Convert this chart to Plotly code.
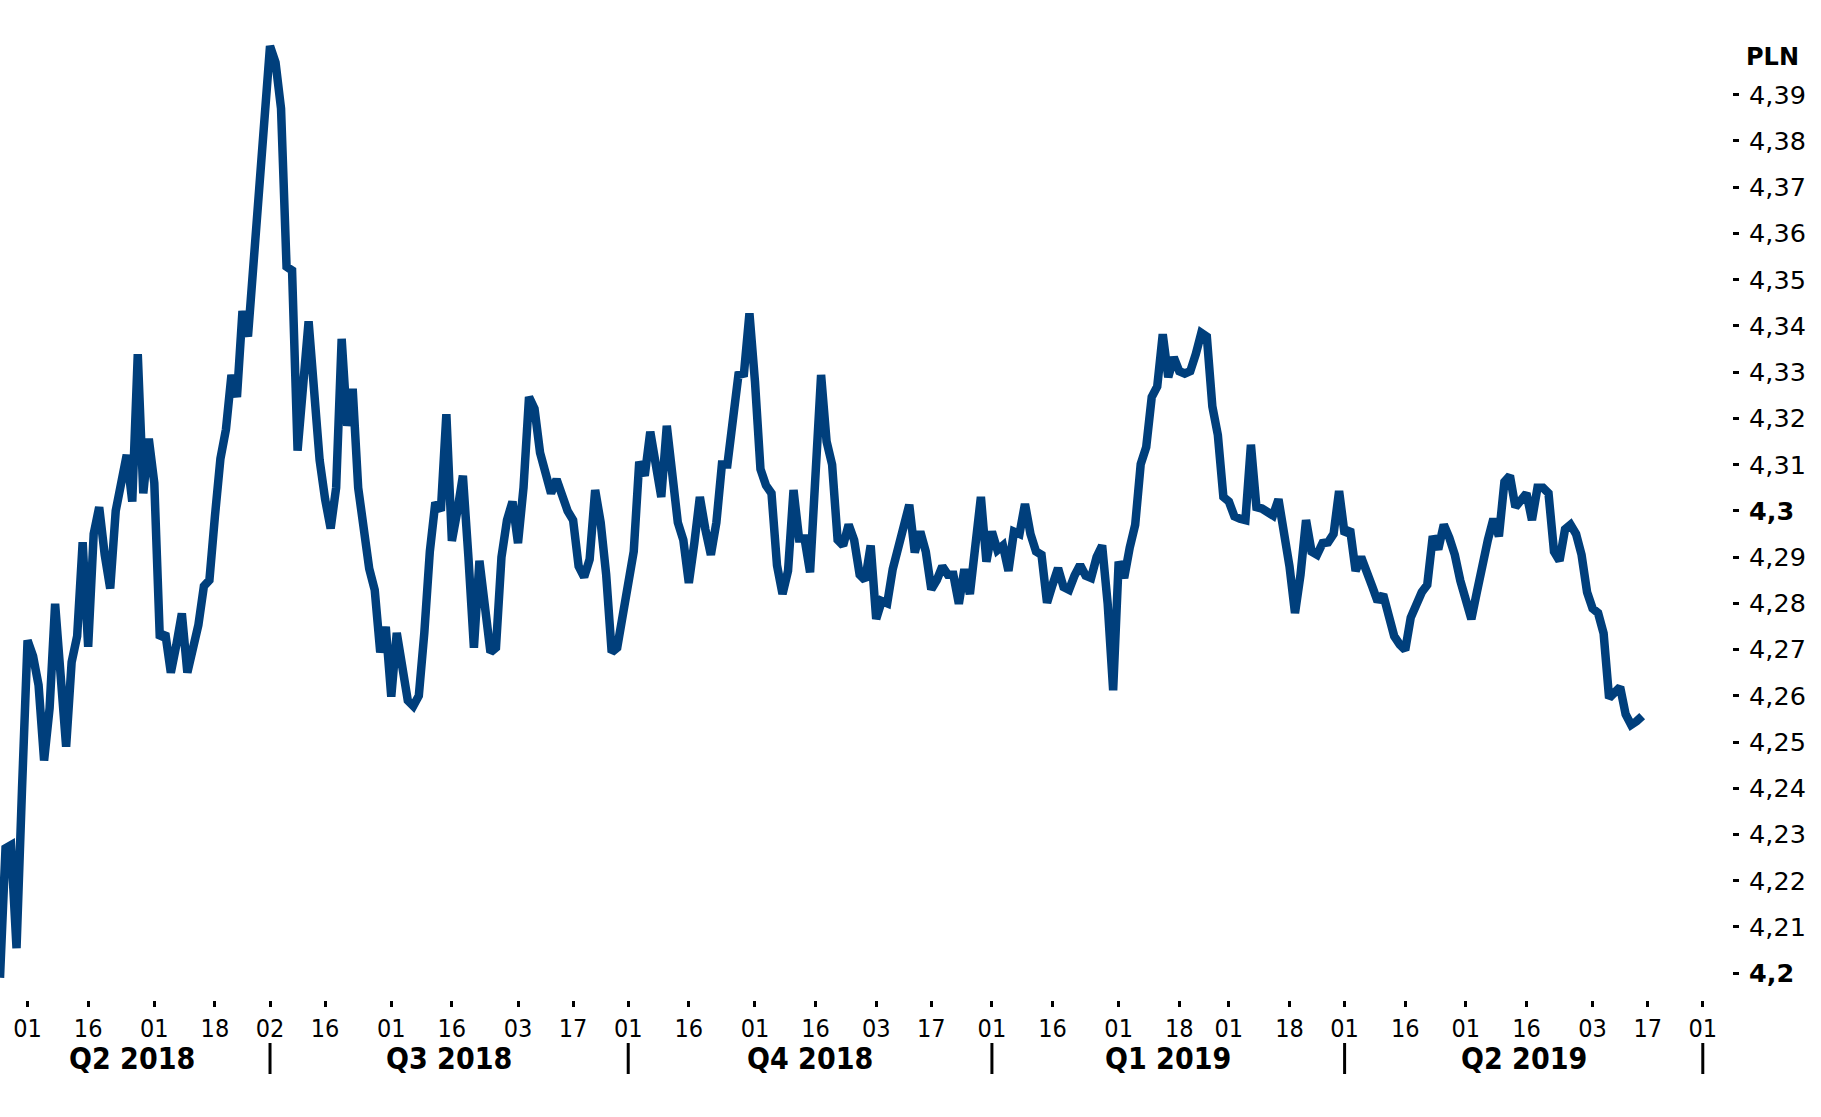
import plotly.graph_objects as go

# EUR/PLN daily fixing, trading days counted from 24 Apr 2018
eurpln = [
    4.199, 4.227, 4.2277, 4.2054, 4.240, 4.272, 4.2686, 4.2623, 4.246, 4.2573,
    4.2799, 4.2623, 4.249, 4.2673, 4.2729, 4.2932, 4.2706, 4.295, 4.3008, 4.2905,
    4.2832, 4.300, 4.3068, 4.3121, 4.302, 4.3339, 4.3038, 4.3156, 4.306, 4.2725,
    4.2735, 4.265, 4.271, 4.2778, 4.265, 4.270, 4.2753, 4.2837, 4.285, 4.2988,
    4.3113, 4.3176, 4.3294, 4.3246, 4.3432, 4.3377, 4.354, 4.3679, 4.383, 4.4005,
    4.397, 4.387, 4.3528, 4.352, 4.313, 4.327, 4.341, 4.326, 4.311, 4.3025,
    4.2962, 4.305, 4.3372, 4.3184, 4.3264, 4.305, 4.295, 4.2875, 4.2829, 4.2694,
    4.2749, 4.2598, 4.2736, 4.2648, 4.259, 4.2578, 4.260, 4.2736, 4.2912, 4.3018,
    4.300, 4.3209, 4.2935, 4.300, 4.3076, 4.290, 4.2704, 4.2892, 4.2774, 4.2694,
    4.2704, 4.290, 4.298, 4.302, 4.293, 4.305, 4.3246, 4.3221, 4.3126, 4.3088,
    4.3038, 4.3068, 4.303, 4.300, 4.298, 4.288, 4.2857, 4.2895, 4.3045, 4.2975,
    4.2862, 4.2694, 4.2704, 4.2774, 4.285, 4.2912, 4.3106, 4.3076, 4.3171, 4.310,
    4.303, 4.3184, 4.3076, 4.2975, 4.2937, 4.2844, 4.293, 4.303, 4.296, 4.2905,
    4.2975, 4.310, 4.310, 4.3189, 4.3294, 4.3297, 4.3427, 4.328, 4.309, 4.3055,
    4.3038, 4.2882, 4.282, 4.287, 4.3045, 4.294, 4.294, 4.2867, 4.308, 4.3294,
    4.315, 4.310, 4.2937, 4.2925, 4.297, 4.2937, 4.2862, 4.285, 4.2925, 4.2766,
    4.2805, 4.280, 4.2874, 4.292, 4.295, 4.3013, 4.291, 4.2955, 4.2912, 4.283,
    4.285, 4.288, 4.2862, 4.2862, 4.2799, 4.2874, 4.282, 4.2925, 4.303, 4.289,
    4.2955, 4.2915, 4.2925, 4.287, 4.2955, 4.295, 4.3015, 4.295, 4.2912, 4.2905,
    4.2801, 4.284, 4.2876, 4.2835, 4.2829, 4.286, 4.2883, 4.286, 4.2855, 4.290,
    4.2925, 4.280, 4.2612, 4.289, 4.2855, 4.292, 4.297, 4.3101, 4.3138, 4.3246,
    4.3269, 4.3382, 4.3289, 4.3332, 4.3302, 4.3297, 4.3302, 4.3339, 4.3385, 4.3377,
    4.3226, 4.3164, 4.303, 4.302, 4.2988, 4.2983, 4.298, 4.3143, 4.3008, 4.3005,
    4.2995, 4.299, 4.3025, 4.2962, 4.288, 4.2779, 4.2862, 4.298, 4.2912, 4.2905,
    4.293, 4.2932, 4.295, 4.3043, 4.295, 4.296, 4.287, 4.290, 4.2862, 4.2837,
    4.2804, 4.2819, 4.2774, 4.2729, 4.2711, 4.2699, 4.2769, 4.2799, 4.2824, 4.284,
    4.2945, 4.2917, 4.297, 4.2942, 4.2905, 4.2849, 4.2812, 4.2766, 4.2824, 4.2887,
    4.2937, 4.2983, 4.2945, 4.3063, 4.3076, 4.3008, 4.302, 4.3038, 4.298, 4.305,
    4.305, 4.3038, 4.2912, 4.2892, 4.296, 4.297, 4.295, 4.2905, 4.2824, 4.2789,
    4.2779, 4.2735, 4.2595, 4.2605, 4.2619, 4.256, 4.2537, 4.2545, 4.2556,
]
trading_day = list(range(len(eurpln)))

# x-axis day ticks (trading-day index) and their labels
tick_day = [5, 16, 28, 39, 49, 59, 71, 82, 94, 104, 114, 125, 137, 148, 159, 169,
            180, 191, 203, 214, 223, 234, 244, 255, 266, 277, 289, 299, 309]
tick_text = ["01", "16", "01", "18", "02", "16", "01", "16", "03", "17", "01", "16",
             "01", "16", "03", "17", "01", "16", "01", "18", "01", "18", "01", "16",
             "01", "16", "03", "17", "01"]

quarter_labels = ["Q2 2018", "Q3 2018", "Q4 2018", "Q1 2019", "Q2 2019"]
quarter_mid = [24, 81.5, 147, 212, 276.5]
quarter_bounds = [49, 114, 180, 244, 309]

y_ticks = [4.20, 4.21, 4.22, 4.23, 4.24, 4.25, 4.26, 4.27, 4.28, 4.29, 4.30,
           4.31, 4.32, 4.33, 4.34, 4.35, 4.36, 4.37, 4.38, 4.39]
y_text = ["<b>4,2</b>", "4,21", "4,22", "4,23", "4,24", "4,25", "4,26", "4,27",
          "4,28", "4,29", "<b>4,3</b>", "4,31", "4,32", "4,33", "4,34", "4,35",
          "4,36", "4,37", "4,38", "4,39"]

NARROW = "Liberation Sans Narrow, DejaVu Sans Condensed, Arial Narrow, sans-serif"
WIDE = "DejaVu Sans, Verdana, sans-serif"
LINE_COLOR = "#003f7c"

fig = go.Figure()
fig.add_trace(go.Scatter(
    x=trading_day, y=eurpln, mode="lines",
    line=dict(color=LINE_COLOR, width=8.5),
    hoverinfo="skip", showlegend=False,
))

fig.update_layout(
    width=1821, height=1117,
    margin=dict(l=0, r=89, t=30, b=117),
    paper_bgcolor="white", plot_bgcolor="white",
    showlegend=False,
    xaxis=dict(
        range=[0, 314.3], tickmode="array", tickvals=tick_day, ticktext=tick_text,
        ticks="outside", ticklen=6, tickwidth=2.5, tickcolor="black",
        showgrid=False, zeroline=False, showline=False,
        tickfont=dict(family=NARROW, size=25, color="black"),
    ),
    yaxis=dict(
        side="right", range=[4.1942, 4.404], tickmode="array",
        tickvals=y_ticks, ticktext=y_text,
        ticks="outside", ticklen=6, tickwidth=3, tickcolor="black",
        ticklabelstandoff=5,
        showgrid=False, zeroline=False, showline=False,
        tickfont=dict(family=WIDE, size=25.5, color="black"),
    ),
)

for lab, xm in zip(quarter_labels, quarter_mid):
    fig.add_annotation(
        x=xm, xref="x", y=-0.0608, yref="paper", text="<b>" + lab + "</b>",
        showarrow=False, xanchor="center", yanchor="middle",
        font=dict(family=NARROW, size=30, color="black"),
    )

for xb in quarter_bounds:
    fig.add_shape(type="line", xref="x", yref="paper", x0=xb, x1=xb,
                  y0=-0.0443, y1=-0.0763, line=dict(color="black", width=3))

fig.add_annotation(
    x=1.0231, xref="paper", y=0.9722, yref="paper", text="<b>PLN</b>",
    showarrow=False, xanchor="center", yanchor="middle",
    font=dict(family=WIDE, size=24, color="black"),
)

fig.write_html("out.html")
